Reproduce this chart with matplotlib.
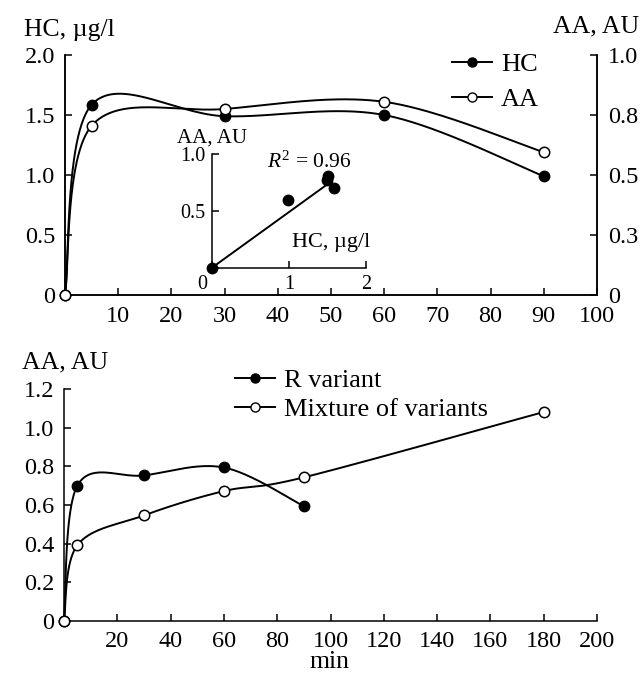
import numpy as np
import matplotlib
matplotlib.use("Agg")
import matplotlib.pyplot as plt
from matplotlib.lines import Line2D

plt.rcParams['font.family'] = ['Liberation Serif', 'DejaVu Serif']
plt.rcParams['mathtext.fontset'] = 'custom'
plt.rcParams['mathtext.rm'] = 'Liberation Serif'
plt.rcParams['mathtext.it'] = 'Liberation Serif:italic'

# top panel: time course of HC and AA
t_top = [0, 5, 30, 60, 90]
hc = [0, 1.585, 1.49, 1.50, 0.99]        # ug/l
aa = [0, 0.705, 0.775, 0.805, 0.595]     # AU
right_ticks = [0, 0.25, 0.5, 0.75, 1.0]
right_labels = ['0', '0.3', '0.5', '0.8', '1.0']

# bottom panel: AA for R variant and mixture
t_r = [0, 5, 30, 60, 90]
aa_r = [0, 0.70, 0.753, 0.794, 0.594]
t_mix = [0, 5, 30, 60, 90, 180]
aa_mix = [0, 0.392, 0.546, 0.672, 0.743, 1.081]


def smooth(ax, x, y, n=60):
    # catmull-rom style smoothing done in screen space
    pts = ax.transData.transform(np.column_stack([x, y]))
    P = np.vstack([pts[0], pts, pts[-1]])
    t = np.linspace(0, 1, n)[:, None]
    out = []
    for i in range(len(pts) - 1):
        p0, p1, p2, p3 = P[i], P[i + 1], P[i + 2], P[i + 3]
        c1 = p1 + (p2 - p0) / 6
        c2 = p2 - (p3 - p1) / 6
        seg = (1 - t)**3 * p1 + 3 * (1 - t)**2 * t * c1 + 3 * (1 - t) * t**2 * c2 + t**3 * p2
        out.append(seg)
    xy = ax.transData.inverted().transform(np.vstack(out))
    return xy[:, 0], xy[:, 1]


def style(ax, fs=17.5, length=5, pad=7):
    ax.tick_params(direction='in', length=length, width=1.1, labelsize=fs, pad=pad)
    for s in ax.spines.values():
        s.set_linewidth(1.1)


W, H = 644, 673
fig = plt.figure(figsize=(W / 100, H / 100), dpi=100)

lw = 1.4
ms = 7.5
lab_fs = 18.5
leg_fs = 19

h1 = Line2D([], [], color='k', lw=lw, marker='o', ms=6.5)
h2 = Line2D([], [], color='k', lw=lw, marker='o', mfc='white', mec='k', ms=6.5)
leg_kw = dict(frameon=False, fontsize=leg_fs, handlelength=1.5, handletextpad=0.35,
              borderaxespad=0, borderpad=0, loc='upper left',
              bbox_transform=fig.transFigure)

# ---------- top ----------
ax1 = fig.add_axes([65 / W, 1 - 295 / H, (597 - 65) / W, (295 - 55) / H])
ax1.set_xlim(0, 100)
ax1.set_ylim(0, 2.0)
ax2 = ax1.twinx()
ax2.set_ylim(0, 1.0)
for a in (ax1, ax2):
    a.spines['top'].set_visible(False)
    a.patch.set_visible(False)
style(ax1)
style(ax2, pad=8)
ax1.tick_params(axis='x', pad=8)
ax1.set_xticks(np.arange(0, 101, 10))
ax1.set_xticklabels([''] + [str(v) for v in range(10, 101, 10)])
ax1.set_yticks([0, 0.5, 1.0, 1.5, 2.0])
ax1.set_yticklabels(['0', '0.5', '1.0', '1.5', '2.0'])
ax2.set_yticks(right_ticks)
ax2.set_yticklabels(right_labels)

sx, sy = smooth(ax1, t_top, hc)
ax1.plot(sx, sy, 'k-', lw=lw, clip_on=False)
ax1.plot(t_top, hc, 'o', color='k', ms=ms, clip_on=False, zorder=5)
sx, sy = smooth(ax2, t_top, aa)
ax2.plot(sx, sy, 'k-', lw=lw, clip_on=False)
ax2.plot(t_top, aa, 'o', mfc='white', mec='k', mew=1.1, ms=ms, clip_on=False, zorder=5)

fig.text(24 / W, 1 - 30 / H, 'HC, µg/l', fontsize=lab_fs, va='center', ha='left')
fig.text(639 / W, 1 - 26 / H, 'AA, AU', fontsize=lab_fs, va='center', ha='right')

ax1.legend([h1, h2], ['HC', 'AA'], bbox_to_anchor=(452 / W, 1 - 53 / H),
           labelspacing=0.42, **leg_kw)

# ---------- inset ----------
axi = fig.add_axes([212 / W, 1 - 268 / H, (366 - 212) / W, (268 - 154) / H])
axi.set_xlim(0, 2)
axi.set_ylim(0, 1.0)
axi.patch.set_visible(False)
axi.spines['top'].set_visible(False)
axi.spines['right'].set_visible(False)
style(axi, fs=14.5, length=5, pad=5)
axi.set_xticks([0, 1, 2])
axi.set_xticklabels(['', '1', '2'])
axi.set_yticks([0, 0.5, 1.0])
axi.set_yticklabels(['', '0.5', '1.0'])
axi.plot(hc, aa, 'o', color='k', ms=ms, clip_on=False, zorder=5)
b, a0 = np.polyfit(hc, aa, 1)
r2 = np.corrcoef(hc, aa)[0, 1] ** 2
lx = np.array([0.02, 1.48])
axi.plot(lx, a0 + b * lx - 0.03, 'k-', lw=lw)
axi.text(0.36, 0.88, r'$R^2$ = %.2f' % r2, transform=axi.transAxes, fontsize=15.5)
axi.text(-0.03, -0.06, '0', transform=axi.transAxes, fontsize=14.5, ha='right', va='top')
axi.text(1.03, 0.14, 'HC, µg/l', transform=axi.transAxes, fontsize=16, ha='right', va='bottom')
axi.text(-0.23, 1.06, 'AA, AU', transform=axi.transAxes, fontsize=15, ha='left', va='bottom')

# ---------- bottom ----------
ax3 = fig.add_axes([64 / W, 1 - 621 / H, (597 - 64) / W, (621 - 389) / H])
ax3.set_xlim(0, 200)
ax3.set_ylim(0, 1.2)
ax3.spines['top'].set_visible(False)
ax3.spines['right'].set_visible(False)
style(ax3)
ax3.set_xticks(np.arange(0, 201, 20))
ax3.set_xticklabels([''] + [str(v) for v in range(20, 201, 20)])
ax3.set_yticks([0, 0.2, 0.4, 0.6, 0.8, 1.0, 1.2])
ax3.set_yticklabels(['0', '0.2', '0.4', '0.6', '0.8', '1.0', '1.2'])

sx, sy = smooth(ax3, t_r, aa_r)
ax3.plot(sx, sy, 'k-', lw=lw, clip_on=False)
ax3.plot(t_r, aa_r, 'o', color='k', ms=ms, clip_on=False, zorder=5)
sx, sy = smooth(ax3, t_mix, aa_mix)
ax3.plot(sx, sy, 'k-', lw=lw, clip_on=False)
ax3.plot(t_mix, aa_mix, 'o', mfc='white', mec='k', mew=1.1, ms=ms, clip_on=False, zorder=5)

fig.text(330 / W, 1 - 662 / H, 'min', fontsize=lab_fs, va='center', ha='center')
fig.text(22 / W, 1 - 362 / H, 'AA, AU', fontsize=lab_fs, va='center', ha='left')
ax3.legend([h1, h2], ['R variant', 'Mixture of variants'],
           bbox_to_anchor=(235 / W, 1 - 369 / H), labelspacing=0.2, **leg_kw)

fig.savefig('out.png', dpi=100)
